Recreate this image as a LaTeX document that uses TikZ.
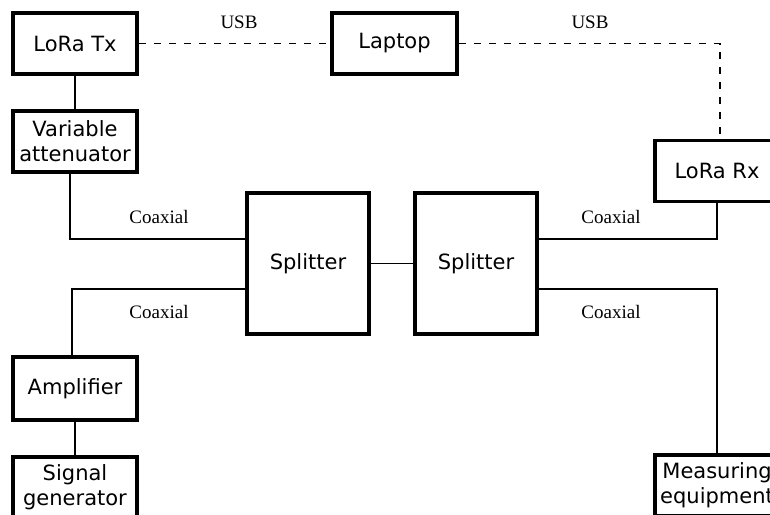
\documentclass[tikz,border=0pt]{standalone}
\usepackage{fontspec}
\setmainfont{Liberation Serif}
\setsansfont{DejaVu Sans}
\begin{document}
\begin{tikzpicture}[x=0.5pt,y=-0.5pt,
    box/.style={draw,line width=1.8pt,rectangle,minimum width=62pt,minimum height=30.5pt,
      align=center,font=\sffamily\fontsize{10.5}{12.5}\selectfont,inner sep=0pt},
    wire/.style={line width=0.9pt},
    usbline/.style={line width=0.9pt,dash pattern=on 3.5pt off 4pt},
    lbl/.style={font=\fontsize{9.5}{11}\selectfont}]
    \useasboundingbox (0,0) rectangle (770,514);
    \fill[white] (0,0) rectangle (770,514);
    \clip (0,0) rectangle (770,514);
    % boxes
    \node[box] (tx) at (75,43.5) {LoRa Tx};
    \node[box] (att) at (75,141.5) {Variable\\attenuator};
    \node[box,minimum width=62.5pt] (laptop) at (394.5,43.5) {Laptop};
    \node[box] (rx) at (717,171) {LoRa Rx};
    \node[box,minimum width=61pt,minimum height=70.5pt] (sp1) at (308,263.5) {Splitter};
    \node[box,minimum width=61pt,minimum height=70.5pt] (sp2) at (476,263.5) {Splitter};
    \node[box,minimum height=31.5pt] (amp) at (75,388.5) {Amplifier};
    \node[box] (gen) at (75,487.5) {Signal\\generator};
    \node[box] (meas) at (717,485.5) {Measuring\\equipment};
    % usb links
    \draw[usbline] (tx) -- (laptop);
    \draw[usbline] (laptop.east) -| ([xshift=1.5pt]rx.north);
    % coax links
    \draw[wire] (tx) -- (att);
    \draw[wire] ([xshift=-2.5pt]att.south) |- ([yshift=12.25pt]sp1.west);
    \draw[wire] ([yshift=-12.75pt]sp1.west) -| ([xshift=-1.5pt]amp.north);
    \draw[wire] (amp) -- (gen);
    \draw[wire] (sp1) -- (sp2);
    \draw[wire] ([yshift=12.25pt]sp2.east) -| (rx.south);
    \draw[wire] ([yshift=-12.75pt]sp2.east) -| (meas.north);
    % labels
    \node[lbl] (usbA) at (239,22) {USB};
    \node[lbl] (usbB) at (590,22) {USB};
    \node[lbl] (coaxA) at (159,217) {Coaxial};
    \node[lbl] (coaxB) at (159,312) {Coaxial};
    \node[lbl] (coaxC) at (611,217) {Coaxial};
    \node[lbl] (coaxD) at (611,312) {Coaxial};
\end{tikzpicture}
\end{document}
